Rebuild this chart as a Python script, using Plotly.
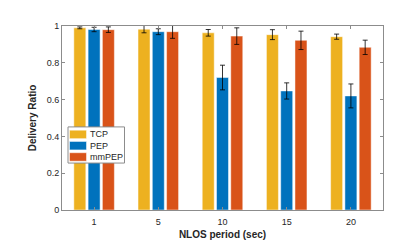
import plotly.graph_objects as go

categories = ["1", "5", "10", "15", "20"]
tcp = [0.990, 0.983, 0.963, 0.953, 0.942]
tcp_err = [0.005, 0.020, 0.018, 0.027, 0.014]
pep = [0.981, 0.969, 0.720, 0.647, 0.620]
pep_err = [0.012, 0.016, 0.067, 0.044, 0.065]
mmpep = [0.980, 0.969, 0.945, 0.922, 0.884]
mmpep_err = [0.015, 0.036, 0.045, 0.050, 0.039]
series_names = ["TCP", "PEP", "mmPEP"]
series_colors = ["#EDB120", "#0072BD", "#D95319"]

series = list(zip(series_names, [tcp, pep, mmpep], [tcp_err, pep_err, mmpep_err], series_colors))

fig = go.Figure()
for name, vals, errs, color in series:
    fig.add_trace(go.Bar(
        x=categories, y=vals, name=name, showlegend=False,
        marker=dict(color=color, line=dict(color="rgba(255,255,255,0.6)", width=0.8)),
        error_y=dict(type="data", array=errs, color="black", thickness=0.8, width=2.5),
    ))

# plot area in pixels: left 54, right 375, top 18, bottom 214
L, R, T, B = 54, 375, 18, 214
def px(x):
    return (x - L) / (R - L)
def py(y):
    return (B - y) / (B - T)

# custom compact legend (MATLAB style)
fig.add_shape(type="rect", xref="paper", yref="paper",
              x0=px(60), x1=px(116.5), y0=py(164), y1=py(125.5),
              line=dict(color="#8c8c8c", width=1), fillcolor="white", layer="above")
row_top = [129, 141, 153]
for i, (name, color) in enumerate(zip(series_names, series_colors)):
    y0, y1 = row_top[i], row_top[i] + 9
    fig.add_shape(type="rect", xref="paper", yref="paper",
                  x0=px(61.5), x1=px(78.5), y0=py(y1), y1=py(y0),
                  line=dict(color="rgba(255,255,255,0.6)", width=0.8),
                  fillcolor=color, layer="above")
    fig.add_annotation(xref="paper", yref="paper", x=px(80), y=py((y0 + y1) / 2),
                       text=name, showarrow=False, xanchor="left", yanchor="middle",
                       font=dict(family="Liberation Sans, Arial", size=9, color="#262626"))

axis_common = dict(
    showline=True, linecolor="#8c8c8c", linewidth=1, mirror="ticks",
    ticks="inside", ticklen=3, tickcolor="#8c8c8c",
    tickfont=dict(family="Liberation Sans, Arial", size=9, color="#262626"),
    showgrid=False, zeroline=False,
)

fig.update_layout(
    width=415, height=243,
    margin=dict(l=L, r=415 - R, t=T, b=243 - B),
    paper_bgcolor="white", plot_bgcolor="white",
    barmode="group", bargap=0.333, bargroupgap=0.16,
    font=dict(family="Liberation Sans, Arial", size=9, color="#262626"),
    xaxis=dict(**axis_common, range=[-0.5, 4.5], ticklabelstandoff=3,
               title=dict(text="<b>NLOS period (sec)</b>", standoff=5,
                          font=dict(size=10, color="#262626"))),
    yaxis=dict(**axis_common, range=[0, 1],
               tickvals=[0, 0.2, 0.4, 0.6, 0.8, 1],
               ticktext=["0", "0.2", "0.4", "0.6", "0.8", "1"],
               title=dict(text="<b>Delivery Ratio</b>", standoff=8,
                          font=dict(size=10, color="#262626"))),
    showlegend=False,
)

fig.write_html("out.html")
